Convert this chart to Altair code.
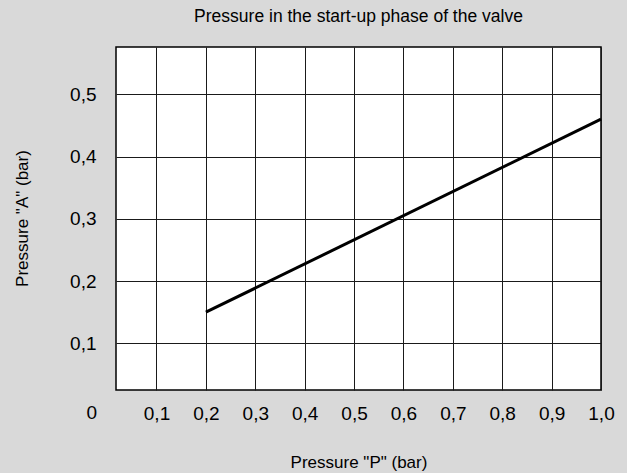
import altair as alt
import pandas as pd

# Pressure at port P (bar) against pressure at port A (bar)
pressure_p = [0.2, 1.0]
pressure_a = [0.15, 0.46]

x_ticks = [0.1, 0.2, 0.3, 0.4, 0.5, 0.6, 0.7, 0.8, 0.9, 1.0]
y_ticks = [0.1, 0.2, 0.3, 0.4, 0.5]

FONT = "Liberation Sans, Arial, sans-serif"
comma_label = "replace(format(datum.value, '.1f'), '.', ',')"

df = pd.DataFrame({"p": pressure_p, "a": pressure_a})
origin = pd.DataFrame({"p": [0.0], "a": [0.0], "label": ["0"]})

x_scale = alt.Scale(domain=[0.018, 1.0], nice=False, zero=False)
y_scale = alt.Scale(domain=[0.025, 0.576], nice=False, zero=False)

line = alt.Chart(df).mark_line(color="black", strokeWidth=3).encode(
    x=alt.X(
        "p:Q",
        scale=x_scale,
        axis=alt.Axis(
            values=x_ticks,
            labelExpr=comma_label,
            title='Pressure "P" (bar)',
            grid=True,
            ticks=False,
            tickSize=0,
            domain=False,
            labelFlush=False,
            labelOverlap=False,
            labelPadding=29,
            labelBaseline="alphabetic",
            titleY=77,
            titleBaseline="alphabetic",
        ),
    ),
    y=alt.Y(
        "a:Q",
        scale=y_scale,
        axis=alt.Axis(
            values=y_ticks,
            labelExpr=comma_label,
            title='Pressure "A" (bar)',
            grid=True,
            ticks=False,
            tickSize=0,
            domain=False,
            labelFlush=False,
            labelPadding=20,
            titleX=-89,
            titleY=171,
            titleBaseline="alphabetic",
        ),
    ),
)

# shared origin label in the lower-left corner
zero_label = alt.Chart(origin).mark_text(
    align="right", baseline="alphabetic", dx=-10, dy=13, fontSize=19, font=FONT, color="black"
).encode(
    x=alt.X("p:Q", scale=x_scale),
    y=alt.Y("a:Q", scale=y_scale),
    text="label:N",
)

chart = (
    alt.layer(zero_label, line)
    .properties(
        width=485,
        height=343,
        title=alt.TitleParams(
            "Pressure in the start-up phase of the valve",
            fontSize=17.5,
            font=FONT,
            fontWeight="normal",
            color="black",
            anchor="middle",
            baseline="alphabetic",
            offset=8,
        ),
        autosize=alt.AutoSizeParams(type="none"),
        padding={"left": 116, "top": 47, "right": 26, "bottom": 83},
        background="#d9d9d9",
    )
    .configure_view(fill="white", stroke="black", strokeWidth=1.5)
    .configure_axis(
        gridColor="#1a1a1a",
        gridWidth=1,
        gridOpacity=1,
        labelFont=FONT,
        labelFontSize=19,
        labelColor="black",
        titleFont=FONT,
        titleFontSize=17,
        titleFontWeight="normal",
        titleColor="black",
    )
)

chart.save("out.html", embed_options={"renderer": "svg", "actions": False})
